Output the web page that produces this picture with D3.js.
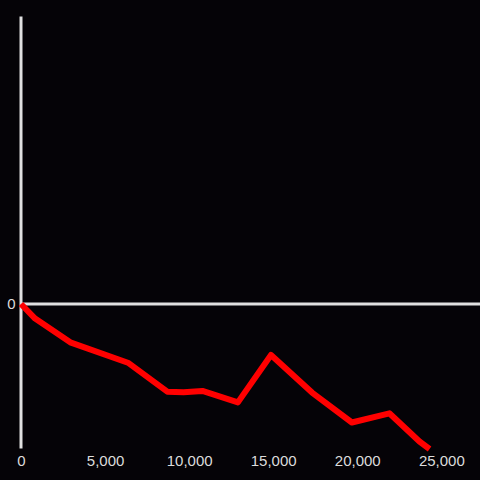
<!DOCTYPE html>
<html>
<head>
<meta charset="utf-8">
<script src="https://cdn.jsdelivr.net/npm/d3@7"></script>
<style>
  body { margin: 0; background: #050307; }
  #chart { width: 480px; height: 480px; }
</style>
</head>
<body>
<div id="chart"></div>
<script>
// values
const xValues = [0, 840, 2930, 6400, 8700, 9670, 10790, 12900, 14870, 17310, 19680, 21910, 23700, 24300];
const yValues = [0, -10.1, -26.6, -41.0, -60.9, -61.3, -60.4, -68.3, -35.4, -61.5, -82.3, -75.9, -95.5, -100.7];
const xTicks = [0, 5000, 10000, 15000, 20000, 25000];
const yTicks = [0];

const width = 480;
const height = 480;
const margin = { top: 16, right: 0, bottom: 32, left: 21 };

const svg = d3.select('#chart')
    .append('svg')
    .attr('width', width)
    .attr('height', height);

svg.append('rect')
    .attr('width', width)
    .attr('height', height)
    .attr('fill', '#050307');

const x = d3.scaleLinear()
    .domain([0, 27300])
    .range([margin.left, width - margin.right]);

const y = d3.scaleLinear()
    .domain([-100, 200])
    .range([height - margin.bottom, margin.top]);

const axisColor = '#e0e0e0';
const textColor = '#dcdcdc';

// bottom labels only
const xAxis = svg.append('g')
    .attr('transform', `translate(0,${height - margin.bottom})`)
    .call(d3.axisBottom(x).tickValues(xTicks).tickFormat(d3.format(',')).tickSize(0).tickPadding(7));
xAxis.select('.domain').remove();
xAxis.selectAll('text')
    .attr('fill', textColor)
    .style('font-family', '"Liberation Sans", Arial, sans-serif')
    .style('font-size', '15px');

// zero line
svg.append('line')
    .attr('x1', x(0))
    .attr('x2', width)
    .attr('y1', y(0))
    .attr('y2', y(0))
    .attr('stroke', axisColor)
    .attr('stroke-width', 3);

const yAxis = svg.append('g')
    .attr('transform', `translate(${x(0) - 0.5},0)`)
    .call(d3.axisLeft(y).tickValues(yTicks).tickSize(0).tickSizeOuter(0).tickPadding(5));
yAxis.select('.domain')
    .attr('stroke', axisColor)
    .attr('stroke-width', 3);
yAxis.selectAll('text')
    .attr('fill', textColor)
    .style('font-family', '"Liberation Sans", Arial, sans-serif')
    .style('font-size', '15px');

const line = d3.line()
    .x((d, i) => x(xValues[i]))
    .y(d => y(d));

svg.append('path')
    .datum(yValues)
    .attr('fill', 'none')
    .attr('stroke', '#ff0000')
    .attr('stroke-width', 6)
    .attr('stroke-linejoin', 'round')
    .attr('d', line);
</script>
</body>
</html>
